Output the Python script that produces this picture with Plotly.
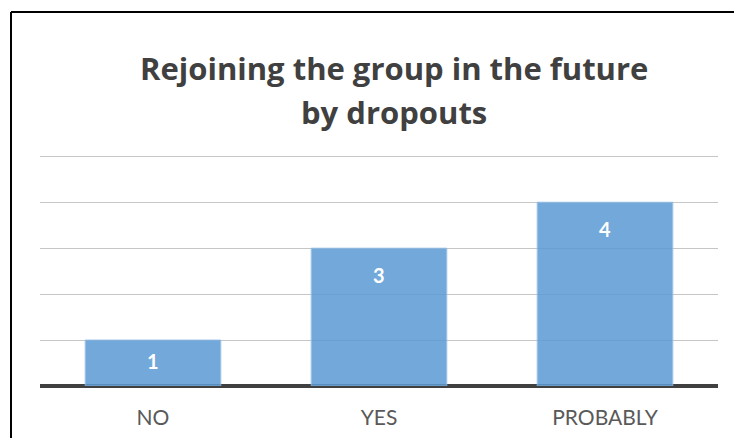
import plotly.graph_objects as go

# Survey answers: would dropouts rejoin the group in the future?
categories = ["NO", "YES", "PROBABLY"]
counts = [1, 3, 4]
y_ticks = [0, 1, 2, 3, 4, 5]

title_lines = ["Rejoining the group in the future", "by dropouts"]

W, H = 734, 438
M_L, M_R, M_T, M_B = 40, 16, 154, 52
PLOT_W = W - M_L - M_R
PLOT_H = H - M_T - M_B
Y_MAX = 5.05
PX_PER_UNIT = PLOT_H / Y_MAX

fig = go.Figure()

fig.add_trace(go.Bar(
    x=categories,
    y=counts,
    marker=dict(color="#5B9BD5", line=dict(color="#8DBBE6", width=1)),
    opacity=0.86,
    hoverinfo="skip",
))

# Value labels inside the top of each bar (kept within short bars)
for cat, val in zip(categories, counts):
    bar_px = val * PX_PER_UNIT
    fig.add_annotation(
        x=cat, y=val, text=str(val), showarrow=False,
        yshift=-min(27, bar_px / 2 - 2),
        font=dict(family="Lato", size=20, color="white", weight="bold"),
    )

# Two-line chart title
for i, line in enumerate(title_lines):
    fig.add_annotation(
        text=line, showarrow=False,
        xref="paper", yref="paper",
        x=(394 - M_L) / PLOT_W, xanchor="center",
        y=1 + (M_T - (68 + 44 * i)) / PLOT_H, yanchor="middle",
        font=dict(family="Open Sans", size=31, color="#404040", weight="bold"),
    )

# Outer frame of the chart area (left and top edges)
frame_top = 1 + (M_T - 12) / PLOT_H
frame_left = (11 - M_L) / PLOT_W
fig.add_shape(type="line", xref="paper", yref="paper",
              x0=frame_left, x1=(W + 5 - M_L) / PLOT_W,
              y0=frame_top, y1=frame_top,
              line=dict(color="black", width=2))
fig.add_shape(type="line", xref="paper", yref="paper",
              x0=frame_left, x1=frame_left,
              y0=-(M_B + 5) / PLOT_H, y1=frame_top,
              line=dict(color="black", width=2))

fig.update_layout(
    width=W, height=H,
    margin=dict(l=M_L, r=M_R, t=M_T, b=M_B),
    paper_bgcolor="white",
    plot_bgcolor="white",
    showlegend=False,
    bargap=0.4,
    xaxis=dict(
        showgrid=False,
        showline=False,
        ticks="",
        tickfont=dict(family="Lato", size=21, color="#595959"),
        ticklabelstandoff=17,
        automargin=False,
    ),
    yaxis=dict(
        range=[0, Y_MAX],
        tickvals=y_ticks,
        showticklabels=False,
        showgrid=True,
        gridcolor="#C6C6C6",
        gridwidth=1,
        zeroline=True,
        zerolinecolor="#404040",
        zerolinewidth=4,
        layer="below traces",
        automargin=False,
    ),
)

fig.write_html("out.html")
